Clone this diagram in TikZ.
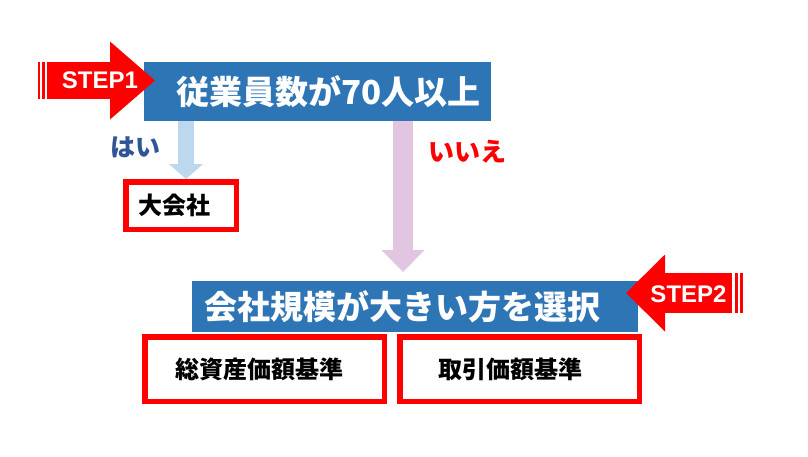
\documentclass[tikz,border=0pt]{standalone}
\usepackage{fontspec}
\setmainfont{Liberation Sans}
\newfontfamily\jpfont{Noto Sans CJK JP}
\usetikzlibrary{arrows.meta}
\definecolor{boxBlue}{HTML}{2E75B6}
\definecolor{yesBlue}{HTML}{BDD7EE}
\definecolor{noPink}{HTML}{E2C6E1}
\definecolor{yesText}{HTML}{2F5597}
\tikzset{blueBox/.style={fill=boxBlue,text=white,inner sep=0pt,
    font=\jpfont\bfseries\fontsize{33}{36}\selectfont},
    redBox/.style={draw=red,line width=5.5pt,fill=white,inner sep=0pt,
    font=\jpfont\bfseries\fontsize{24}{28}\selectfont},
    stepText/.style={text=white,inner sep=0pt,
    font=\bfseries\fontsize{24}{28}\selectfont},
    }

\begin{document}
\begin{tikzpicture}[x=1pt,y=-1pt]
	\useasboundingbox (0,0) rectangle (808,456);
	% boxes
	\node[blueBox,minimum width=347pt,minimum height=59pt] (empBox) at (317.5,91.5) {\hspace*{22pt}従業員数が70人以上};
	\node[blueBox,minimum width=446pt,minimum height=51pt] (sizeBox) at (415,306.5) {会社規模が大きい方を選択\hspace*{25pt}};
	\node[redBox,minimum width=110.5pt,minimum height=47.5pt] (bigCo) at (181,205.5) {大会社\hspace*{14pt}};
	\node[redBox,minimum width=239.5pt,minimum height=64.5pt] (assetStd) at (264.5,369) {総資産価額基準\hspace*{11pt}};
	\node[redBox,minimum width=239.5pt,minimum height=64.5pt] (dealStd) at (519.5,369) {取引価額基準\hspace*{19pt}};
	% yes / no
	\coordinate (yesX) at (186,0);
	\coordinate (noX) at (403,0);
	\coordinate (noEnd) at (403,272);
	\draw[yesBlue,line width=16pt,-{Triangle[width=34pt,length=15pt,line width=0pt]}] (empBox.south -| yesX)--(bigCo.north -| yesX);
	\draw[noPink,line width=20pt,-{Triangle[width=43pt,length=22pt,line width=0pt]}] (empBox.south -| noX)--(noEnd);
	\node[text=yesText,font=\jpfont\bfseries\fontsize{25}{28}\selectfont] (yesLabel) at (135,147) {はい};
	\node[text=red,font=\jpfont\bfseries\fontsize{26}{28}\selectfont] (noLabel) at (467,152) {いいえ};
	% step arrows
	\coordinate (stepOneTail) at (46.7,80.5);
	\coordinate (stepOneTip) at (155,80.5);
	\draw[red,line width=37pt,-{Triangle[width=78pt,length=45pt,line width=0pt]}] (stepOneTail)--(stepOneTip);
	\fill[red] (38.3,62) rectangle (40,99);
	\fill[red] (41.7,62) rectangle (44.7,99);
	\node[stepText] (stepOne) at (100,80.5) {STEP1};
	\coordinate (stepTwoTail) at (732,293);
	\coordinate (stepTwoTip) at (626,293);
	\draw[red,line width=40pt,-{Triangle[width=77pt,length=39pt,line width=0pt]}] (stepTwoTail)--(stepTwoTip);
	\fill[red] (734.7,273) rectangle (737.7,313);
	\fill[red] (740,273) rectangle (742.5,313);
	\node[stepText] (stepTwo) at (688.5,294) {STEP2};
\end{tikzpicture}
\end{document}
